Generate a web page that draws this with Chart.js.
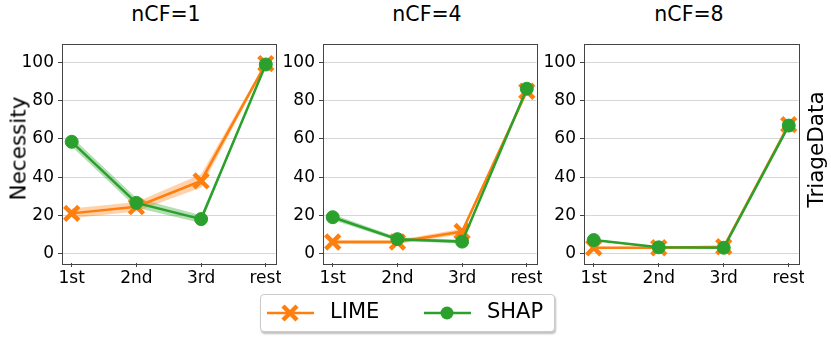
<!DOCTYPE html>
<html>
<head>
<meta charset="utf-8">
<script src="https://cdn.jsdelivr.net/npm/chart.js@4"></script>
<style>
    body { margin: 0; width: 831px; height: 338px; background: #fff; position: relative; overflow: hidden; font-family: 'DejaVu Sans', sans-serif; }
    canvas { position: absolute; }
    .title { position: absolute; top: 2px; font-size: 20.5px; text-align: center; width: 200px; color: #000; }
    .ylab { position: absolute; font-size: 21.5px; transform: rotate(-90deg); transform-origin: center; white-space: nowrap; color: #000; }
    .legend { position: absolute; left: 260px; top: 294px; width: 293px; height: 36px; border: 1px solid #ccc; border-radius: 4px; box-shadow: 1px 2px 2px rgba(0,0,0,0.25); background: #fff; }
    .legend span { position: absolute; top: 4px; font-size: 21px; }
    .legend svg { position: absolute; top: 6px; }
</style>
</head>
<body>
<canvas id="c0" width="264" height="257" style="left:17px;top:33px"></canvas>
<canvas id="c1" width="264" height="257" style="left:278px;top:33px"></canvas>
<canvas id="c2" width="265" height="257" style="left:539px;top:33px"></canvas>
<div class="title" style="left:66px">nCF=1</div>
<div class="title" style="left:327px">nCF=4</div>
<div class="title" style="left:589px">nCF=8</div>
<div class="ylab" style="left:-34px;top:136px;width:104px;text-align:center">Necessity</div>
<div class="ylab" style="left:756px;top:137px;width:119px;text-align:center">TriageData</div>
<div class="legend">
    <svg width="48" height="24" style="left:6px"><line x1="0" y1="12" x2="47" y2="12" stroke="#ff7f0e" stroke-width="2.5"/><line x1="16" y1="5" x2="30" y2="19" stroke="#ff7f0e" stroke-width="4.5"/><line x1="30" y1="5" x2="16" y2="19" stroke="#ff7f0e" stroke-width="4.5"/></svg>
    <span style="left:69px">LIME</span>
    <svg width="48" height="24" style="left:163px"><line x1="0" y1="12" x2="47" y2="12" stroke="#2ca02c" stroke-width="2.5"/><circle cx="23" cy="12" r="6.5" fill="#2ca02c"/></svg>
    <span style="left:226px">SHAP</span>
</div>
<script>
const categories = ['1st', '2nd', '3rd', 'rest'];
const panelTitles = ['nCF=1', 'nCF=4', 'nCF=8'];
const yTicks = [0, 20, 40, 60, 80, 100];

// mean values
const limeNcf1 = [21, 24.5, 38, 99.5];
const shapNcf1 = [58.5, 26.5, 18, 99];
const limeNcf4 = [6, 6, 11.5, 85];
const shapNcf4 = [19, 7.5, 6.2, 86.3];
const limeNcf8 = [3, 3, 3.5, 67.5];
const shapNcf8 = [7, 3.2, 3, 67];

// half-width of the shaded confidence band
const limeBandNcf1 = [2.5, 2.5, 3.5, 1];
const shapBandNcf1 = [2.5, 2.5, 2, 0.5];
const limeBandNcf4 = [1, 1, 1.5, 1];
const shapBandNcf4 = [1.5, 1, 1, 0.5];
const limeBandNcf8 = [0.5, 0.5, 0.5, 0.5];
const shapBandNcf8 = [0.5, 0.5, 0.5, 0.5];

const LIME = '#ff7f0e';
const SHAP = '#2ca02c';
const FONT = "'DejaVu Sans', sans-serif";

const panels = [
    { lime: limeNcf1, shap: shapNcf1, limeBand: limeBandNcf1, shapBand: shapBandNcf1 },
    { lime: limeNcf4, shap: shapNcf4, limeBand: limeBandNcf4, shapBand: shapBandNcf4 },
    { lime: limeNcf8, shap: shapNcf8, limeBand: limeBandNcf8, shapBand: shapBandNcf8 }
];

function toPoints(values) {
    return values.map((v, i) => ({ x: i, y: v }));
}

// matplotlib-style box round the plot area
const frame = {
    id: 'frame',
    afterDatasetsDraw(chart) {
        const a = chart.chartArea;
        const ctx = chart.ctx;
        ctx.save();
        ctx.strokeStyle = '#444';
        ctx.lineWidth = 1;
        ctx.strokeRect(Math.round(a.left) + 0.5, Math.round(a.top) + 0.5, Math.round(a.right - a.left), Math.round(a.bottom - a.top));
        ctx.restore();
    }
};

function bandDatasets(values, band, fillColor, lowerIndex) {
    return [
        { data: toPoints(values.map((v, i) => v - band[i])), borderWidth: 0, pointRadius: 0, fill: false, order: 3 },
        { data: toPoints(values.map((v, i) => v + band[i])), borderWidth: 0, pointRadius: 0, fill: lowerIndex, backgroundColor: fillColor, order: 3 }
    ];
}

panels.forEach((p, idx) => {
    const ctx = document.getElementById('c' + idx).getContext('2d');
    new Chart(ctx, {
        type: 'line',
        data: {
            datasets: [
                ...bandDatasets(p.lime, p.limeBand, 'rgba(255,127,14,0.35)', 0),
                ...bandDatasets(p.shap, p.shapBand, 'rgba(44,160,44,0.35)', 2),
                {
                    label: 'LIME',
                    data: toPoints(p.lime),
                    borderColor: LIME,
                    backgroundColor: LIME,
                    borderWidth: 2.5,
                    pointStyle: 'crossRot',
                    pointRadius: 10,
                    pointBorderWidth: 4.5,
                    fill: false,
                    order: 1
                },
                {
                    label: 'SHAP',
                    data: toPoints(p.shap),
                    borderColor: SHAP,
                    backgroundColor: SHAP,
                    borderWidth: 2.5,
                    pointStyle: 'circle',
                    pointRadius: 6.5,
                    pointBorderWidth: 1,
                    fill: false,
                    order: 0
                }
            ]
        },
        options: {
            responsive: false,
            animation: false,
            events: [],
            layout: { autoPadding: false, padding: { top: 10.5, right: 5.5, left: 0, bottom: 0 } },
            plugins: { legend: { display: false }, tooltip: { enabled: false } },
            scales: {
                x: {
                    type: 'linear',
                    min: -0.15,
                    max: 3.15,
                    afterBuildTicks: scale => { scale.ticks = categories.map((c, i) => ({ value: i })); },
                    afterFit: scale => { scale.height = 27; scale.paddingLeft = 0; scale.paddingRight = 0; },
                    border: { display: false },
                    grid: { drawOnChartArea: false, drawTicks: true, tickLength: 4, tickColor: '#444' },
                    ticks: {
                        callback: v => categories[v],
                        color: '#000',
                        padding: 1,
                        maxRotation: 0,
                        font: { family: FONT, size: 17 }
                    }
                },
                y: {
                    min: -5,
                    max: 110,
                    afterBuildTicks: scale => { scale.ticks = yTicks.map(v => ({ value: v })); },
                    afterFit: scale => { scale.width = 45; scale.paddingTop = 0; scale.paddingBottom = 0; },
                    border: { display: false },
                    grid: { color: '#d6d6d6', lineWidth: 1, drawTicks: true, tickLength: 4, tickColor: '#444' },
                    ticks: {
                        color: '#000',
                        padding: 4,
                        font: { family: FONT, size: 17 }
                    }
                }
            }
        },
        plugins: [frame]
    });
});
</script>
</body>
</html>
